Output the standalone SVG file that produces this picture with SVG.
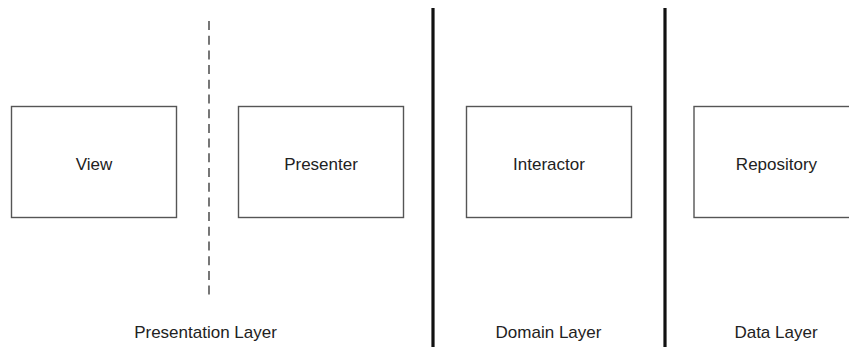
<svg xmlns="http://www.w3.org/2000/svg" width="849" height="347" viewBox="0 0 849 347">
<style>
.box{fill:#ffffff;stroke:#555555;stroke-width:1.4}
.lbl{font-family:"Liberation Sans",Arial,sans-serif;font-size:17px;fill:#222222;text-anchor:middle}
.sep{stroke:#111111;stroke-width:3.2;fill:none}
.dash{stroke:#555555;stroke-width:1.6;stroke-dasharray:9 5.7;fill:none}
</style>
<rect width="849" height="347" fill="#ffffff"/>
<g id="separators">
<line class="dash" x1="209" y1="21" x2="209" y2="299"/>
<line class="sep" x1="433" y1="8" x2="433" y2="347"/>
<line class="sep" x1="665" y1="8" x2="665" y2="347"/>
</g>
<g id="view">
<rect class="box" x="11.5" y="106.5" width="165" height="111"/>
<text class="lbl" x="94" y="169.5">View</text>
</g>
<g id="presenter">
<rect class="box" x="238.5" y="106.5" width="165" height="111"/>
<text class="lbl" x="321" y="169.5">Presenter</text>
</g>
<g id="interactor">
<rect class="box" x="466.5" y="106.5" width="165" height="111"/>
<text class="lbl" x="549" y="169.5">Interactor</text>
</g>
<g id="repository">
<rect class="box" x="694" y="106.5" width="165" height="111"/>
<text class="lbl" x="776.5" y="169.5">Repository</text>
</g>
<g id="layer-labels">
<text class="lbl" x="205.5" y="338">Presentation Layer</text>
<text class="lbl" x="548.5" y="338">Domain Layer</text>
<text class="lbl" x="776" y="338">Data Layer</text>
</g>
</svg>
